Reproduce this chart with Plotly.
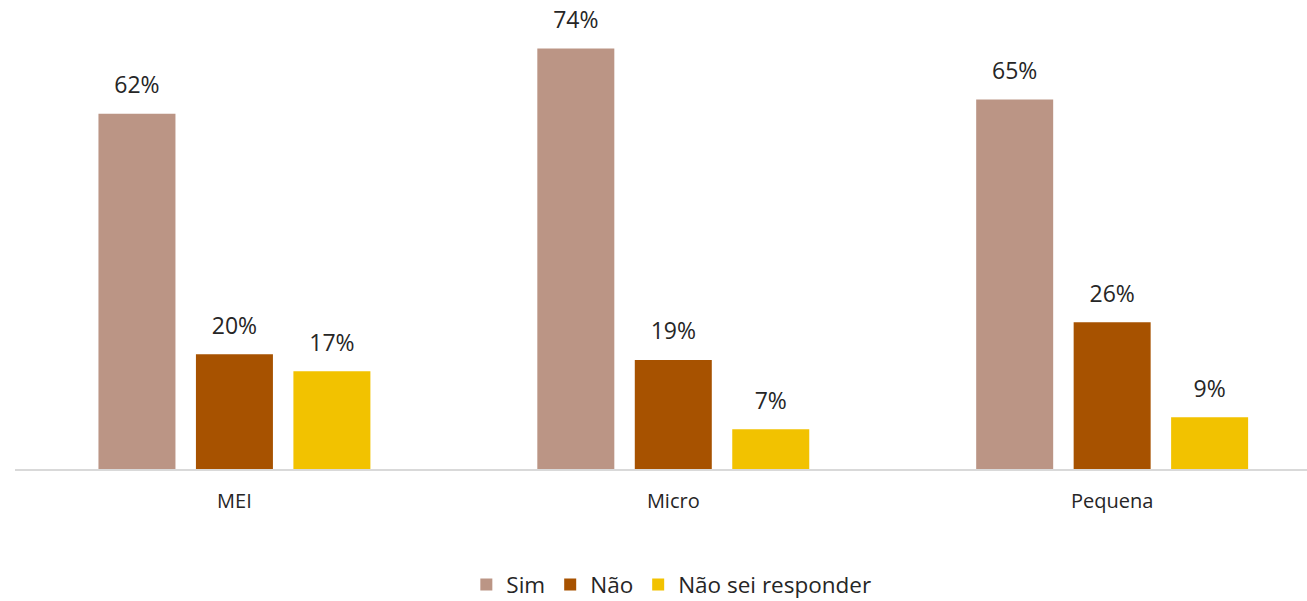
import plotly.graph_objects as go

categories = ["MEI", "Micro", "Pequena"]
series_names = ["Sim", "Não", "Não sei responder"]
sim = [62.5, 74, 65]
nao = [20.2, 19.2, 25.8]
nao_sei = [17.2, 7, 9.1]
labels_sim = ["62%", "74%", "65%"]
labels_nao = ["20%", "19%", "26%"]
labels_nao_sei = ["17%", "7%", "9%"]
colors = ["#BB9585", "#A75200", "#F2C200"]

values = [sim, nao, nao_sei]
labels = [labels_sim, labels_nao, labels_nao_sei]

FONT = "Open Sans"
TXT = "#262626"

fig = go.Figure()
for i, name in enumerate(series_names):
    fig.add_trace(go.Bar(
        x=categories, y=values[i], name=name,
        marker=dict(color=colors[i], line=dict(width=0)),
        offsetgroup=str(i),
    ))
for i, name in enumerate(series_names):
    fig.add_trace(go.Scatter(
        x=categories, y=values[i], mode="markers+text",
        text=labels[i], textposition="top center",
        textfont=dict(family=FONT, size=23, color=TXT),
        marker=dict(size=22, opacity=0),
        offsetgroup=str(i), showlegend=False, hoverinfo="skip",
        cliponaxis=False,
    ))

fig.update_layout(
    width=1307, height=601,
    margin=dict(l=15, r=0, t=20, b=132, autoexpand=False),
    paper_bgcolor="white", plot_bgcolor="white",
    barmode="group", bargap=0.3337, bargroupgap=0.21,
    scattermode="group", scattergap=0.3337,
    font=dict(family=FONT, size=20, color=TXT),
    showlegend=True,
    legend=dict(orientation="h", x=0.508, xanchor="center", y=0.027, yanchor="middle",
                yref="container", font=dict(family=FONT, size=22.5, color=TXT),
                traceorder="normal"),
)
fig.update_xaxes(range=[-0.5, 2.444], showline=True, linecolor="#D9D9D9", linewidth=2,
                 ticks="", showgrid=False, zeroline=False, ticklabelstandoff=13,
                 tickfont=dict(family=FONT, size=20, color=TXT))
fig.update_yaxes(range=[0, 79.0], visible=False, showgrid=False, zeroline=False)

fig.write_html("out.html", config={"displayModeBar": False},
               post_script="document.body.style.margin='0';")
